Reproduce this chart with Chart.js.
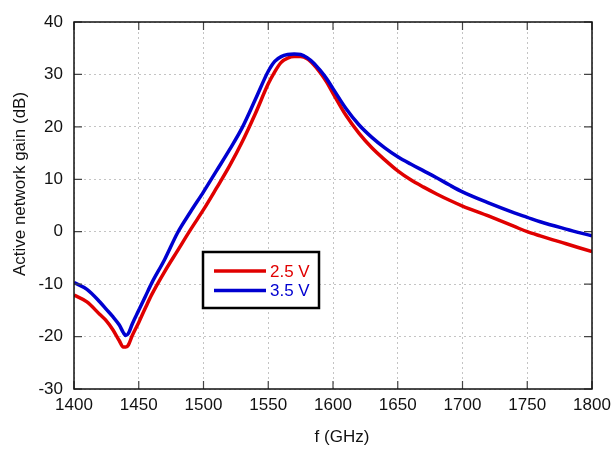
<!DOCTYPE html>
<html>
<head>
<meta charset="utf-8">
<script src="https://cdn.jsdelivr.net/npm/chart.js@4.4.1/dist/chart.umd.min.js"></script>
<style>
  html, body { margin: 0; padding: 0; background: #fff; }
  #wrap { width: 613px; height: 450px; }
</style>
</head>
<body>
<div id="wrap"><canvas id="gainChart"></canvas></div>
<script>
// values
var freq = [1400, 1410, 1420, 1425, 1430, 1435, 1438, 1440, 1442, 1445, 1450, 1455, 1460, 1470, 1480, 1490,
            1500, 1510, 1520, 1530, 1540, 1550, 1555, 1560, 1565, 1570, 1575, 1580, 1585, 1590, 1595, 1600,
            1610, 1620, 1630, 1640, 1650, 1660, 1670, 1680, 1690, 1700, 1720, 1740, 1750, 1760, 1780, 1800];
var gain25 = [-12.1, -13.4, -15.8, -17.0, -18.7, -20.8, -22.0, -22.0, -21.6, -19.8, -17.3, -14.6, -12.0, -7.6, -3.6, 0.4,
              4.2, 8.3, 12.5, 17.2, 22.5, 28.2, 30.5, 32.3, 33.1, 33.4, 33.4, 33.0, 31.9, 30.4, 28.6, 26.4,
              22.2, 18.8, 16.0, 13.7, 11.6, 9.9, 8.5, 7.2, 6.0, 4.9, 3.0, 1.0, 0.0, -0.8, -2.3, -3.8];
var gain35 = [-9.7, -11.0, -13.4, -14.8, -16.2, -17.8, -19.2, -19.8, -19.4, -17.6, -15.0, -12.4, -9.8, -5.3, -0.2, 3.8,
              7.6, 11.6, 15.6, 19.9, 25.2, 30.6, 32.5, 33.4, 33.8, 33.9, 33.8, 33.2, 32.2, 30.8, 29.2, 27.3,
              23.5, 20.4, 18.0, 16.0, 14.3, 12.9, 11.6, 10.3, 8.9, 7.6, 5.5, 3.6, 2.75, 1.9, 0.5, -0.8];
var seriesNames = ['2.5 V', '3.5 V'];
var seriesColors = ['#e00000', '#0000d0'];
var xTicks = [1400, 1450, 1500, 1550, 1600, 1650, 1700, 1750, 1800];
var yTicks = [-30, -20, -10, 0, 10, 20, 30, 40];

function toPoints(vals) {
  return freq.map(function (f, i) { return { x: f, y: vals[i] }; });
}

var FONT = 'Liberation Sans, Arial, sans-serif';

// box around the plot, inward ticks, axis titles and the boxed legend
var framePlugin = {
  id: 'frame',
  afterDraw: function (chart) {
    var ctx = chart.ctx, a = chart.chartArea;
    var xs = chart.scales.x, ys = chart.scales.y;
    ctx.save();
    ctx.strokeStyle = '#444';
    ctx.lineWidth = 1.2;
    ctx.beginPath();
    xTicks.forEach(function (t) {
      var px = xs.getPixelForValue(t);
      ctx.moveTo(px, a.bottom); ctx.lineTo(px, a.bottom - 8);
      ctx.moveTo(px, a.top); ctx.lineTo(px, a.top + 8);
    });
    yTicks.forEach(function (t) {
      var py = ys.getPixelForValue(t);
      ctx.moveTo(a.left, py); ctx.lineTo(a.left + 8, py);
      ctx.moveTo(a.right, py); ctx.lineTo(a.right - 8, py);
    });
    ctx.stroke();
    ctx.strokeStyle = '#111';
    ctx.lineWidth = 1.5;
    ctx.strokeRect(a.left, a.top, a.right - a.left, a.bottom - a.top);

    // axis titles
    ctx.fillStyle = '#111';
    ctx.font = '17px ' + FONT;
    ctx.textAlign = 'center';
    ctx.textBaseline = 'middle';
    ctx.fillText('f (GHz)', 342, 437);
    ctx.translate(20, 184);
    ctx.rotate(-Math.PI / 2);
    ctx.fillText('Active network gain (dB)', 0, 0);
    ctx.restore();

    // legend
    ctx.save();
    ctx.fillStyle = '#fff';
    ctx.fillRect(203, 252, 116, 56);
    ctx.strokeStyle = '#000';
    ctx.lineWidth = 2.5;
    ctx.strokeRect(203, 252, 116, 56);
    ctx.font = '17px ' + FONT;
    ctx.textAlign = 'left';
    ctx.textBaseline = 'middle';
    seriesNames.forEach(function (name, i) {
      var y = 271 + i * 19.5;
      ctx.strokeStyle = seriesColors[i];
      ctx.lineWidth = 3.5;
      ctx.beginPath();
      ctx.moveTo(214, y); ctx.lineTo(266, y);
      ctx.stroke();
      ctx.fillStyle = seriesColors[i];
      ctx.fillText(name, 270, y + 1);
    });
    ctx.restore();
  }
};

var ctx = document.getElementById('gainChart').getContext('2d');
var gainChart = new Chart(ctx, {
  type: 'line',
  data: {
    datasets: [
      {
        label: seriesNames[0],
        data: toPoints(gain25),
        borderColor: seriesColors[0],
        borderWidth: 3.5,
        pointRadius: 0,
        cubicInterpolationMode: 'monotone',
        order: 1
      },
      {
        label: seriesNames[1],
        data: toPoints(gain35),
        borderColor: seriesColors[1],
        borderWidth: 3.5,
        pointRadius: 0,
        cubicInterpolationMode: 'monotone',
        order: 0
      }
    ]
  },
  options: {
    responsive: true,
    maintainAspectRatio: false,
    animation: false,
    layout: { padding: { left: 0, right: 21, top: 22, bottom: 0 } },
    plugins: { legend: { display: false }, tooltip: { enabled: false } },
    scales: {
      x: {
        type: 'linear',
        min: 1400,
        max: 1800,
        afterBuildTicks: function (s) { s.ticks = xTicks.map(function (v) { return { value: v }; }); },
        afterFit: function (s) { s.height = 61; s.paddingLeft = 0; s.paddingRight = 0; },
        ticks: {
          color: '#111', font: { family: FONT, size: 17 }, padding: 6, maxRotation: 0,
          callback: function (v) { return String(v); }
        },
        grid: { color: '#c4c4c4', lineWidth: 1, drawTicks: false },
        border: { display: false, dash: [2, 3] }
      },
      y: {
        type: 'linear',
        min: -30,
        max: 40,
        afterBuildTicks: function (s) { s.ticks = yTicks.map(function (v) { return { value: v }; }); },
        afterFit: function (s) { s.width = 74; s.paddingTop = 0; s.paddingBottom = 0; },
        ticks: {
          color: '#111', font: { family: FONT, size: 17 }, padding: 11,
          callback: function (v) { return String(v); }
        },
        grid: { color: '#c4c4c4', lineWidth: 1, drawTicks: false },
        border: { display: false, dash: [2, 3] }
      }
    }
  },
  plugins: [framePlugin]
});
</script>
</body>
</html>
